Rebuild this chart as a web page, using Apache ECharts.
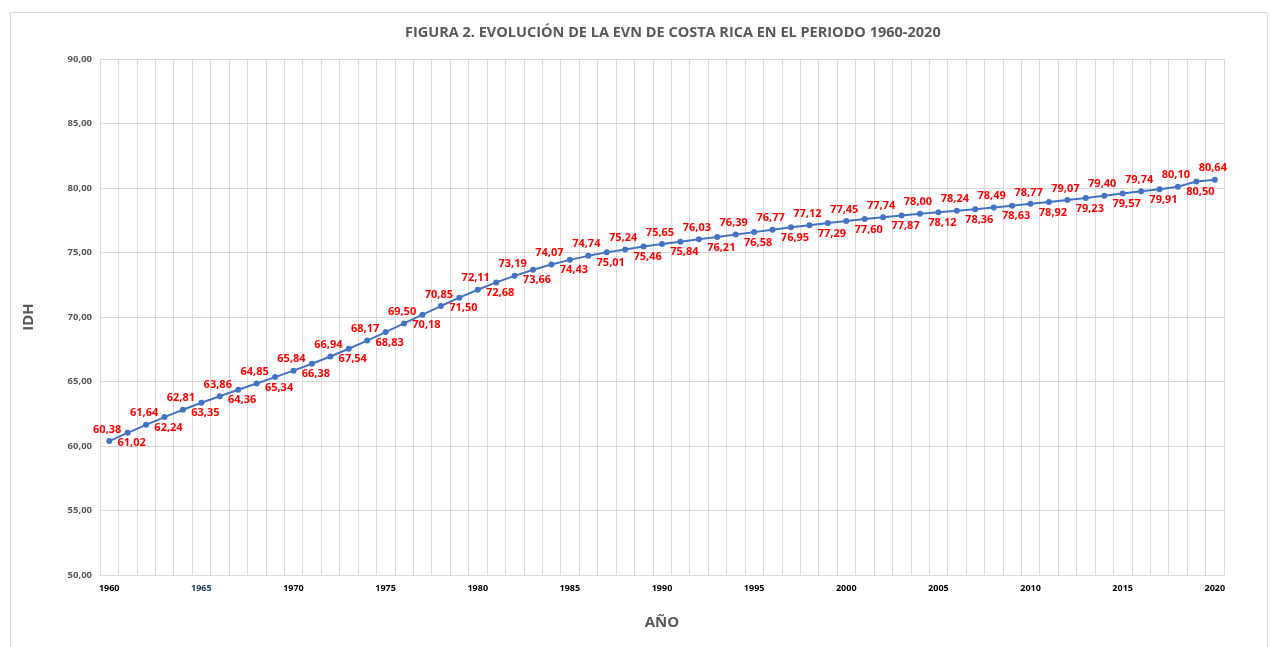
<!DOCTYPE html>
<html>
<head>
<meta charset="utf-8">
<title>Figura 2</title>
<script src="https://cdn.jsdelivr.net/npm/echarts@6/dist/echarts.min.js"></script>
<style>
	html, body { margin: 0; padding: 0; background: #fff; }
	#chart { width: 1270px; height: 647px; }
</style>
</head>
<body>
<div id="chart"></div>
<script>
// años 1960-2020
var years = [];
for (var y = 1960; y <= 2020; y++) years.push(String(y));

// esperanza de vida al nacer (EVN)
var evn = [
	60.38, 61.02, 61.64, 62.24, 62.81, 63.35, 63.86, 64.36, 64.85, 65.34,
	65.84, 66.38, 66.94, 67.54, 68.17, 68.83, 69.50, 70.18, 70.85, 71.50,
	72.11, 72.68, 73.19, 73.66, 74.07, 74.43, 74.74, 75.01, 75.24, 75.46,
	75.65, 75.84, 76.03, 76.21, 76.39, 76.58, 76.77, 76.95, 77.12, 77.29,
	77.45, 77.60, 77.74, 77.87, 78.00, 78.12, 78.24, 78.36, 78.49, 78.63,
	78.77, 78.92, 79.07, 79.23, 79.40, 79.57, 79.74, 79.91, 80.10, 80.50,
	80.64
];

var yTicks = [50, 55, 60, 65, 70, 75, 80, 85, 90];

function coma(v) {
	return v.toFixed(2).replace('.', ',');
}

var fuente = '"Open Sans", "Liberation Sans", sans-serif';

var chart = echarts.init(document.getElementById('chart'));

// etiquetas alternadas arriba / abajo
var puntos = evn.map(function(v, i) {
	var arriba = i % 2 === 0;
	return {
		value: v,
		label: {
			position: arriba ? 'top' : 'bottom',
			distance: arriba ? 3 : 2,
			offset: arriba ? [-2, 0] : [4, 0]
		}
	};
});

var option = {
	animation: false,
	textStyle: { fontFamily: fuente },
	title: {
		text: 'FIGURA 2. EVOLUCIÓN DE LA EVN DE COSTA RICA EN EL PERIODO 1960-2020',
		left: 400,
		top: 20,
		textStyle: {
			color: '#595959',
			fontSize: 14.5,
			fontWeight: 'bold',
			fontFamily: fuente
		}
	},
	graphic: [{
		type: 'rect',
		shape: { x: 10.5, y: 12.5, width: 1257, height: 640 },
		style: { fill: 'none', stroke: '#d9d9d9', lineWidth: 1 },
		silent: true
	}],
	grid: {
		left: 100,
		right: 46,
		top: 59,
		bottom: 72
	},
	xAxis: {
		type: 'category',
		data: years,
		boundaryGap: true,
		name: 'AÑO',
		nameLocation: 'middle',
		nameGap: 40,
		nameTextStyle: {
			color: '#595959',
			fontSize: 15,
			fontWeight: 'bold'
		},
		axisLine: { lineStyle: { color: '#d9d9d9' } },
		axisTick: { show: false },
		axisLabel: {
			interval: 4,
			margin: 9,
			color: '#000',
			fontSize: 9,
			fontWeight: 'bold',
			formatter: function(v) {
				return v === '1965' ? '{azul|' + v + '}' : v;
			},
			rich: {
				azul: { color: '#1f3864', fontSize: 9, fontWeight: 'bold' }
			}
		},
		splitLine: {
			show: true,
			interval: 0,
			lineStyle: { color: '#d9d9d9' }
		}
	},
	yAxis: {
		type: 'value',
		min: yTicks[0],
		max: yTicks[yTicks.length - 1],
		interval: 5,
		name: 'IDH',
		nameLocation: 'middle',
		nameGap: 64,
		nameTextStyle: {
			color: '#595959',
			fontSize: 15,
			fontWeight: 'bold'
		},
		axisLine: { show: true, lineStyle: { color: '#d9d9d9' } },
		axisTick: { show: false },
		axisLabel: {
			margin: 8,
			color: '#595959',
			fontSize: 9.5,
			fontWeight: 'bold',
			formatter: function(v) { return coma(v); }
		},
		splitLine: { lineStyle: { color: '#d9d9d9' } }
	},
	series: [{
		name: 'EVN',
		type: 'line',
		data: puntos,
		symbol: 'circle',
		symbolSize: 6,
		lineStyle: { color: '#4472c4', width: 2 },
		itemStyle: { color: '#4472c4' },
		label: {
			show: true,
			color: '#ff0000',
			fontSize: 11,
			fontWeight: 'bold',
			formatter: function(p) { return coma(p.value); }
		}
	}]
};
chart.setOption(option);
</script>
</body>
</html>
